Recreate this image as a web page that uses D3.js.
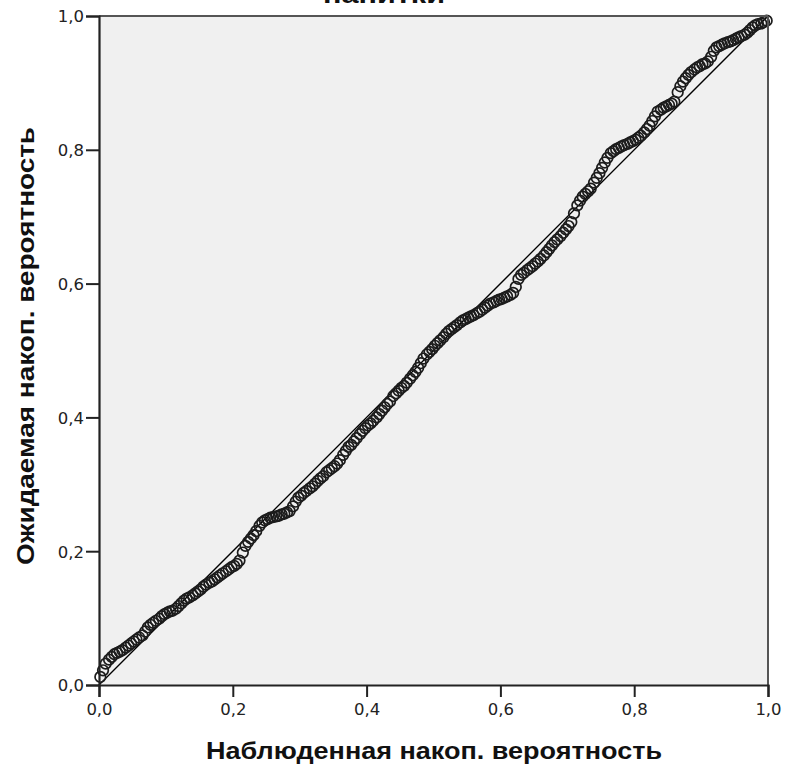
<!DOCTYPE html>
<html>
<head>
<meta charset="utf-8">
<script src="https://cdn.jsdelivr.net/npm/d3@7"></script>
<style>
  html, body { margin: 0; padding: 0; background: #ffffff; }
  svg { display: block; }
</style>
</head>
<body>
<svg id="chart" width="785" height="767"></svg>
<script>
// Normal P-P plot: observed vs expected cumulative probability
const chartTitle = "напитки";
const xTitle = "Наблюденная  накоп.  вероятность";
const yTitle = "Ожидаемая  накоп.  вероятность";
const tickValues = [0, 0.2, 0.4, 0.6, 0.8, 1.0];
const tickLabels = ["0,0", "0,2", "0,4", "0,6", "0,8", "1,0"];

const observed = [
  0.002, 0.006, 0.010, 0.015, 0.019, 0.023, 0.027, 0.031, 0.035, 0.040,
  0.044, 0.048, 0.052, 0.056, 0.060, 0.065, 0.069, 0.073, 0.077, 0.081,
  0.085, 0.090, 0.094, 0.098, 0.102, 0.106, 0.110, 0.115, 0.119, 0.123,
  0.127, 0.131, 0.135, 0.140, 0.144, 0.148, 0.152, 0.156, 0.160, 0.165,
  0.169, 0.173, 0.177, 0.181, 0.185, 0.190, 0.194, 0.198, 0.202, 0.206,
  0.210, 0.215, 0.219, 0.223, 0.227, 0.231, 0.235, 0.240, 0.244, 0.248,
  0.252, 0.256, 0.260, 0.265, 0.269, 0.273, 0.277, 0.281, 0.285, 0.290,
  0.294, 0.298, 0.302, 0.306, 0.310, 0.315, 0.319, 0.323, 0.327, 0.331,
  0.335, 0.340, 0.344, 0.348, 0.352, 0.356, 0.360, 0.365, 0.369, 0.373,
  0.377, 0.381, 0.385, 0.390, 0.394, 0.398, 0.402, 0.406, 0.410, 0.415,
  0.419, 0.423, 0.427, 0.431, 0.435, 0.440, 0.444, 0.448, 0.452, 0.456,
  0.460, 0.465, 0.469, 0.473, 0.477, 0.481, 0.485, 0.490, 0.494, 0.498,
  0.502, 0.506, 0.510, 0.515, 0.519, 0.523, 0.527, 0.531, 0.535, 0.540,
  0.544, 0.548, 0.552, 0.556, 0.560, 0.565, 0.569, 0.573, 0.577, 0.581,
  0.585, 0.590, 0.594, 0.598, 0.602, 0.606, 0.610, 0.615, 0.619, 0.623,
  0.627, 0.631, 0.635, 0.640, 0.644, 0.648, 0.652, 0.656, 0.660, 0.665,
  0.669, 0.673, 0.677, 0.681, 0.685, 0.690, 0.694, 0.698, 0.702, 0.706,
  0.710, 0.715, 0.719, 0.723, 0.727, 0.731, 0.735, 0.740, 0.744, 0.748,
  0.752, 0.756, 0.760, 0.765, 0.769, 0.773, 0.777, 0.781, 0.785, 0.790,
  0.794, 0.798, 0.802, 0.806, 0.810, 0.815, 0.819, 0.823, 0.827, 0.831,
  0.835, 0.840, 0.844, 0.848, 0.852, 0.856, 0.860, 0.865, 0.869, 0.873,
  0.877, 0.881, 0.885, 0.890, 0.894, 0.898, 0.902, 0.906, 0.910, 0.915,
  0.919, 0.923, 0.927, 0.931, 0.935, 0.940, 0.944, 0.948, 0.952, 0.956,
  0.960, 0.965, 0.969, 0.973, 0.977, 0.981, 0.985, 0.990, 0.994, 0.998
];

const expected = [
  0.012, 0.022, 0.032, 0.038, 0.042, 0.046, 0.048, 0.050, 0.052, 0.056,
  0.059, 0.062, 0.065, 0.068, 0.071, 0.074, 0.080, 0.086, 0.090, 0.093,
  0.096, 0.099, 0.103, 0.106, 0.108, 0.110, 0.111, 0.114, 0.118, 0.122,
  0.126, 0.129, 0.131, 0.134, 0.137, 0.140, 0.143, 0.147, 0.150, 0.153,
  0.155, 0.158, 0.161, 0.164, 0.167, 0.170, 0.173, 0.176, 0.178, 0.181,
  0.186, 0.198, 0.208, 0.214, 0.219, 0.224, 0.230, 0.238, 0.243, 0.246,
  0.248, 0.250, 0.251, 0.252, 0.253, 0.255, 0.256, 0.258, 0.260, 0.267,
  0.274, 0.280, 0.283, 0.287, 0.290, 0.294, 0.297, 0.301, 0.305, 0.309,
  0.312, 0.318, 0.321, 0.324, 0.327, 0.331, 0.336, 0.344, 0.350, 0.356,
  0.359, 0.364, 0.369, 0.375, 0.380, 0.384, 0.388, 0.391, 0.395, 0.400,
  0.405, 0.410, 0.415, 0.420, 0.424, 0.432, 0.436, 0.440, 0.444, 0.447,
  0.452, 0.458, 0.463, 0.468, 0.474, 0.481, 0.488, 0.494, 0.498, 0.502,
  0.507, 0.511, 0.515, 0.520, 0.525, 0.529, 0.532, 0.535, 0.538, 0.542,
  0.545, 0.547, 0.549, 0.551, 0.553, 0.556, 0.558, 0.561, 0.564, 0.567,
  0.570, 0.572, 0.574, 0.576, 0.577, 0.579, 0.581, 0.583, 0.586, 0.595,
  0.607, 0.613, 0.616, 0.620, 0.623, 0.626, 0.630, 0.633, 0.637, 0.642,
  0.647, 0.652, 0.657, 0.662, 0.666, 0.671, 0.676, 0.681, 0.686, 0.692,
  0.705, 0.717, 0.724, 0.730, 0.734, 0.738, 0.742, 0.751, 0.758, 0.765,
  0.773, 0.781, 0.788, 0.795, 0.798, 0.801, 0.803, 0.805, 0.807, 0.809,
  0.811, 0.813, 0.815, 0.818, 0.821, 0.826, 0.831, 0.836, 0.843, 0.850,
  0.857, 0.860, 0.863, 0.865, 0.867, 0.869, 0.872, 0.886, 0.895, 0.902,
  0.907, 0.912, 0.916, 0.920, 0.923, 0.925, 0.928, 0.929, 0.932, 0.939,
  0.948, 0.953, 0.955, 0.957, 0.959, 0.961, 0.962, 0.964, 0.966, 0.968,
  0.970, 0.972, 0.975, 0.979, 0.983, 0.986, 0.988, 0.989, 0.991, 0.993
];

const points = observed.map((o, i) => ({ o, e: expected[i] }));

const svg = d3.select("#chart");
const plotLeft = 99, plotRight = 768, plotTop = 16, plotBottom = 685;

const x = d3.scaleLinear().domain([0, 1]).range([plotLeft, plotRight]);
const y = d3.scaleLinear().domain([0, 1]).range([plotBottom, plotTop]);

const labelFont = "'DejaVu Sans', Verdana, sans-serif";
const titleFont = "'Liberation Sans', Arial, sans-serif";

// Plot background
svg.append("rect")
  .attr("x", plotLeft).attr("y", plotTop)
  .attr("width", plotRight - plotLeft).attr("height", plotBottom - plotTop)
  .attr("fill", "#f0f0f0");

// Chart title, mostly above the visible area
svg.append("text")
  .attr("x", 384).attr("y", 3)
  .attr("text-anchor", "middle")
  .attr("font-family", titleFont)
  .attr("font-weight", "bold")
  .attr("font-size", 26)
  .attr("textLength", 122)
  .attr("lengthAdjust", "spacingAndGlyphs")
  .attr("fill", "#111")
  .text(chartTitle);

// Reference diagonal
svg.append("line")
  .attr("x1", x(0)).attr("y1", y(0))
  .attr("x2", x(1)).attr("y2", y(1))
  .attr("stroke", "#000").attr("stroke-width", 1.3);

// Points
svg.append("g")
  .selectAll("circle")
  .data(points)
  .join("circle")
  .attr("cx", d => x(d.o))
  .attr("cy", d => y(d.e))
  .attr("r", 5.3)
  .attr("fill", "none")
  .attr("stroke", "#1c1c1c")
  .attr("stroke-width", 1.7);

// Frame: top and right
svg.append("line")
  .attr("x1", plotLeft).attr("y1", plotTop).attr("x2", plotRight).attr("y2", plotTop)
  .attr("stroke", "#555").attr("stroke-width", 2);
svg.append("line")
  .attr("x1", plotRight).attr("y1", plotTop).attr("x2", plotRight).attr("y2", plotBottom)
  .attr("stroke", "#555").attr("stroke-width", 2);

// Axes
const fmt = d => tickLabels[tickValues.indexOf(d)];
const xAxis = d3.axisBottom(x).tickValues(tickValues).tickFormat(fmt).tickSize(12).tickPadding(6);
const yAxis = d3.axisLeft(y).tickValues(tickValues).tickFormat(fmt).tickSize(13).tickPadding(2);

const gx = svg.append("g").attr("transform", `translate(0,${plotBottom})`).call(xAxis);
const gy = svg.append("g").attr("transform", `translate(${plotLeft},0)`).call(yAxis);

[gx, gy].forEach(g => {
  g.select(".domain").attr("stroke", "#222").attr("stroke-width", 2.2);
  g.selectAll(".tick line").attr("stroke", "#222").attr("stroke-width", 2);
  g.selectAll(".tick text")
    .attr("font-family", labelFont)
    .attr("font-size", 16.5)
    .attr("fill", "#222");
});
gy.selectAll(".tick text").attr("dy", "0.36em");

// Axis titles
svg.append("text")
  .attr("x", 434).attr("y", 759)
  .attr("text-anchor", "middle")
  .attr("font-family", titleFont)
  .attr("font-weight", "bold")
  .attr("font-size", 24)
  .attr("textLength", 456)
  .attr("lengthAdjust", "spacingAndGlyphs")
  .attr("fill", "#111")
  .text(xTitle);

svg.append("text")
  .attr("transform", `translate(34,346) rotate(-90)`)
  .attr("text-anchor", "middle")
  .attr("font-family", titleFont)
  .attr("font-weight", "bold")
  .attr("font-size", 24)
  .attr("textLength", 438)
  .attr("lengthAdjust", "spacingAndGlyphs")
  .attr("fill", "#111")
  .text(yTitle);
</script>
</body>
</html>
